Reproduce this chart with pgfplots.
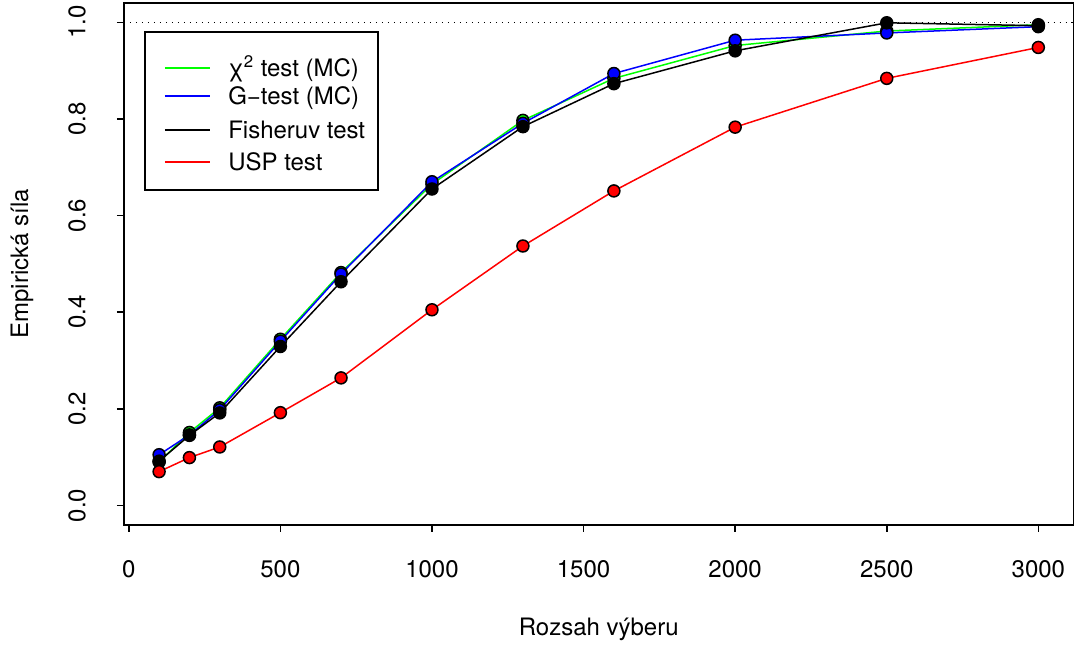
\documentclass[border=0pt]{standalone}
\usepackage{fontspec}
\setmainfont{TeX Gyre Heros}
\usepackage{pgfplots}
\pgfplotsset{compat=1.18}
\definecolor{rgreen}{RGB}{0,255,0}
\definecolor{rblue}{RGB}{0,0,255}
\definecolor{rred}{RGB}{255,0,0}
\begin{document}
\begin{tikzpicture}
\begin{axis}[
  scale only axis,
  width=475bp, height=261bp,
  xmin=-16, xmax=3116, ymin=-0.04, ymax=1.04,
  xtick={0,500,1000,1500,2000,2500,3000},
  xticklabels={0,500,1000,1500,2000,2500,3000},
  ytick={0,0.2,0.4,0.6,0.8,1.0},
  yticklabels={0.0,0.2,0.4,0.6,0.8,1.0},
  tick pos=left,
  tick align=outside,
  major tick length=3.5bp,
  every tick/.style={black, line width=0.75bp},
  axis line style={black, line width=0.75bp},
  font=\fontsize{12bp}{14bp}\selectfont,
  ticklabel style={font=\fontsize{12bp}{14bp}\selectfont},
  xticklabel style={anchor=center, yshift=-18.5bp},
  yticklabel style={anchor=center, xshift=-20bp, rotate=90},
  every axis x label/.style={at={(axis description cs:0.5,0)}, anchor=center, yshift=-52.5bp},
  every axis y label/.style={at={(axis description cs:0,0.5)}, xshift=-51bp, rotate=90, anchor=center},
  xlabel={Rozsah výberu},
  ylabel={Empirická síla},
]
\addplot[rgreen, line width=0.75bp, mark=*, mark size=3bp, mark options={fill=rgreen, draw=black, line width=0.75bp}] coordinates {
(100,0.090) (200,0.151) (300,0.202) (500,0.344) (700,0.482) (1000,0.665) (1300,0.797) (1600,0.884) (2000,0.952) (2500,0.982) (3000,0.995)};
\addplot[rblue, line width=0.75bp, mark=*, mark size=3bp, mark options={fill=rblue, draw=black, line width=0.75bp}] coordinates {
(100,0.105) (200,0.146) (300,0.198) (500,0.340) (700,0.479) (1000,0.670) (1300,0.791) (1600,0.894) (2000,0.963) (2500,0.978) (3000,0.991)};
\addplot[black, line width=0.75bp, mark=*, mark size=3bp, mark options={fill=black, draw=black, line width=0.75bp}] coordinates {
(100,0.0916) (200,0.145) (300,0.1915) (500,0.329) (700,0.463) (1000,0.655) (1300,0.784) (1600,0.873) (2000,0.941) (2500,0.999) (3000,0.993)};
\addplot[rred, line width=0.75bp, mark=*, mark size=3bp, mark options={fill=rred, draw=black, line width=0.75bp}] coordinates {
(100,0.070) (200,0.099) (300,0.121) (500,0.192) (700,0.264) (1000,0.405) (1300,0.537) (1600,0.651) (2000,0.783) (2500,0.884) (3000,0.948)};
\addplot[black, line width=0.75bp, dash pattern=on 0.75bp off 2.25bp] coordinates {(-16,1) (3116,1)};
\end{axis}
% legend box
\begin{scope}[shift={(current axis.north west)}, font=\fontsize{12bp}{14bp}\selectfont]
\draw[black, line width=0.75bp, fill=white] (10.5bp,-14.5bp) rectangle (127bp,-93.5bp);
\draw[rgreen, line width=1bp] (20.5bp,-32.5bp) -- (43bp,-32.5bp);
\node[anchor=base west, inner sep=0pt] at (52bp,-36.8bp) {χ\textsuperscript{2} test (MC)};
\draw[rblue, line width=1bp] (20.5bp,-46.5bp) -- (43bp,-46.5bp);
\node[anchor=base west, inner sep=0pt] at (52bp,-50.8bp) {G\textminus test (MC)};
\draw[black, line width=1bp] (20.5bp,-63.5bp) -- (43bp,-63.5bp);
\node[anchor=base west, inner sep=0pt] at (52bp,-67.8bp) {Fisheruv test};
\draw[rred, line width=1bp] (20.5bp,-79.5bp) -- (43bp,-79.5bp);
\node[anchor=base west, inner sep=0pt] at (52bp,-83.8bp) {USP test};
\end{scope}
\pgfresetboundingbox
\useasboundingbox ([xshift=-62bp,yshift=-61.5bp]current axis.south west) rectangle ([xshift=0.75bp,yshift=1.5bp]current axis.north east);
\end{tikzpicture}
\end{document}
